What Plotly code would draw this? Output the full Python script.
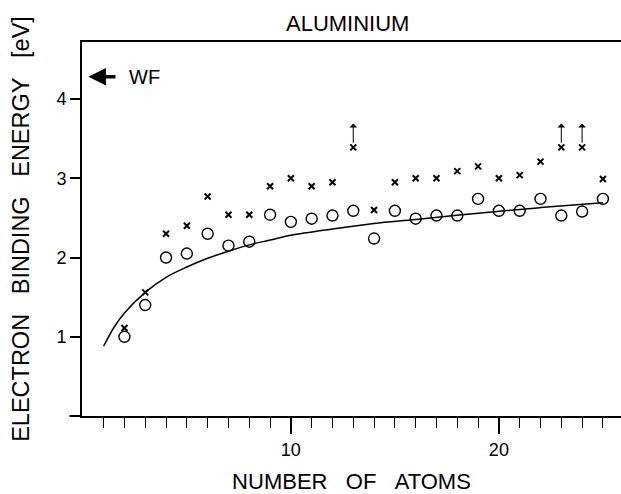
import plotly.graph_objects as go

# ---- data ----
n_atoms = list(range(2, 26))
circle_vals = [1.00, 1.40, 2.00, 2.05, 2.30, 2.15, 2.20, 2.54, 2.45, 2.49, 2.53, 2.59,
               2.24, 2.59, 2.49, 2.53, 2.53, 2.74, 2.59, 2.59, 2.74, 2.53, 2.58, 2.74]
cross_vals = [1.11, 1.56, 2.30, 2.40, 2.77, 2.54, 2.54, 2.90, 3.00, 2.90, 2.95, 3.39,
              2.60, 2.95, 3.00, 3.00, 3.09, 3.15, 3.00, 3.04, 3.21, 3.39, 3.39, 2.99]
curve_n = [1.0, 1.5, 2.0, 3.0, 4.0, 5.0, 6.0, 7.0, 8.0, 9.0, 10.0, 12.0, 14.0, 16.0, 19.0, 22.0, 25.0]
curve_vals = [0.88, 1.12, 1.30, 1.56, 1.75, 1.88, 1.99, 2.08, 2.16, 2.22, 2.28, 2.36, 2.43, 2.48, 2.56, 2.63, 2.69]
limit_n = [13, 23, 24]          # crosses that are lower limits (arrows)
limit_low = [3.43, 3.43, 3.43]
limit_top = [3.69, 3.69, 3.69]
wf_value = 4.28                 # work function marker
x_major = [10, 20]
x_minor = list(range(1, 26))
y_ticks = [1, 2, 3, 4]

FONT = "Liberation Sans"
SP = "\u00a0\u00a0\u00a0"

fig = go.Figure()
fig.add_trace(go.Scatter(x=curve_n, y=curve_vals, mode="lines", line=dict(color="black", width=1.5, shape="spline"),
                         showlegend=False, hoverinfo="skip"))
fig.add_trace(go.Scatter(x=n_atoms, y=circle_vals, mode="markers",
                         marker=dict(symbol="circle-open", size=11, color="black", line=dict(width=1.4, color="black")),
                         showlegend=False))
fig.add_trace(go.Scatter(x=n_atoms, y=cross_vals, mode="markers",
                         marker=dict(symbol="x-thin", size=6, color="black", line=dict(width=2, color="black")),
                         showlegend=False))

annotations = []
for n, lo, hi in zip(limit_n, limit_low, limit_top):
    annotations.append(dict(x=n, y=hi, ax=n, ay=lo, xref="x", yref="y", axref="x", ayref="y",
                            showarrow=True, arrowhead=1, arrowsize=1.3, arrowwidth=1, arrowcolor="black", text=""))
annotations.append(dict(x=0.27, y=wf_value, ax=1.64, ay=wf_value, xref="x", yref="y", axref="x", ayref="y",
                        showarrow=True, arrowhead=2, arrowsize=1.0, arrowwidth=3.5, arrowcolor="black", text=""))
annotations.append(dict(x=2.1, y=wf_value, xref="x", yref="y", text="WF", showarrow=False,
                        xanchor="left", yanchor="middle", font=dict(family=FONT, size=20, color="black")))
annotations.append(dict(x=0.492, y=1, xref="paper", yref="paper", yshift=19, text="ALUMINIUM", showarrow=False,
                        xanchor="center", yanchor="middle", font=dict(family=FONT, size=22, color="black")))

fig.update_layout(
    width=621, height=494,
    margin=dict(l=82, r=0, t=42, b=78),
    paper_bgcolor="white", plot_bgcolor="white",
    font=dict(family=FONT, color="black", size=18),
    annotations=annotations,
    shapes=[dict(type="line", xref="paper", yref="paper", x0=-0.023, x1=0, y0=0, y1=0,
                 line=dict(color="black", width=2))],
)
fig.update_xaxes(range=[-0.04, 25.87], showgrid=False, zeroline=False,
                 showline=True, linecolor="black", linewidth=2, mirror=True,
                 tickmode="array", tickvals=x_major, ticks="outside", ticklen=16, tickwidth=2, tickcolor="black",
                 tickfont=dict(family=FONT, size=18),
                 minor=dict(tickmode="array", tickvals=x_minor, ticks="outside", ticklen=10, tickwidth=1.3, tickcolor="black"),
                 title=dict(text="NUMBER" + SP + "OF" + SP + "ATOMS", font=dict(family=FONT, size=22), standoff=15))
fig.update_yaxes(range=[0, 4.72], showgrid=False, zeroline=False,
                 showline=True, linecolor="black", linewidth=1.6,
                 tickmode="array", tickvals=y_ticks, ticks="outside", ticklen=10, tickwidth=1.6, tickcolor="black",
                 tickfont=dict(family=FONT, size=18),
                 title=dict(text="ELECTRON" + SP + "BINDING" + SP + "ENERGY" + SP + "[eV]", font=dict(family=FONT, size=23.5), standoff=20))

fig.write_html("out.html")
